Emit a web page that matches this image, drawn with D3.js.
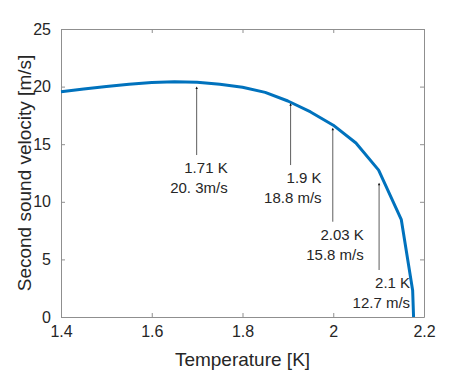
<!DOCTYPE html>
<html lang="en">

<head>
  <meta charset="UTF-8">
  <title>Second sound velocity</title>
  <script src="https://d3js.org/d3.v7.min.js"></script>
  <style>
    body { margin: 0; background: #fff; }
    text { font-family: "Liberation Sans", Arial, Helvetica, sans-serif; }
  </style>
</head>

<body>
  <div class="canvas"></div>
  <script>
    // data
    const temperature = [1.40, 1.45, 1.50, 1.55, 1.60, 1.65, 1.70, 1.75, 1.80, 1.85,
      1.90, 1.95, 2.00, 2.05, 2.10, 2.15, 2.175, 2.177];
    const velocity = [19.56, 19.8, 20.0, 20.2, 20.35, 20.42, 20.38, 20.2, 19.95, 19.5,
      18.75, 17.8, 16.65, 15.1, 12.75, 8.45, 2.3, 0];

    const xTicks = [1.4, 1.6, 1.8, 2.0, 2.2];
    const yTicks = [0, 5, 10, 15, 20, 25];

    // annotation: arrow head (T, v), text tail (v), two text lines
    const noteHeadT = [1.699, 1.906, 1.999, 2.101];
    const noteHeadV = [20.0, 18.55, 16.43, 11.66];
    const noteTailV = [14.06, 13.19, 8.27, 4.08];
    const noteLine1 = ['1.71 K', '1.9 K', '2.03 K', '2.1 K'];
    const noteLine2 = ['20. 3m/s', '18.8 m/s', '15.8 m/s', '12.7 m/s'];

    const width = 469;
    const height = 372;
    let [mt, mb, mr, ml] = [29, 55, 45, 61];

    const graphWidth = width - mr - ml;
    const graphHeight = height - mt - mb;

    const svg = d3.select('.canvas')
      .append('svg')
      .attr('width', width)
      .attr('height', height)

    const graph = svg.append('g')
      .attr('transform', `translate(${ml}, ${mt})`)

    const x = d3.scaleLinear()
      .domain([1.4, 2.2])
      .range([0, graphWidth])

    const y = d3.scaleLinear()
      .domain([0, 25])
      .range([graphHeight, 0])

    const axisColor = '#8f8f8f';
    const textColor = '#262626';

    // axes with inner ticks, box on
    const styleAxis = g => {
      g.select('.domain').attr('stroke', axisColor);
      g.selectAll('.tick line').attr('stroke', axisColor);
      g.selectAll('.tick text')
        .attr('fill', textColor)
        .attr('font-size', 16);
    };

    graph.append('g')
      .attr('transform', `translate(0, ${graphHeight})`)
      .call(d3.axisBottom(x).tickValues(xTicks).tickFormat(d3.format('~g'))
        .tickSizeInner(-4).tickSizeOuter(0).tickPadding(9))
      .call(styleAxis)

    graph.append('g')
      .call(d3.axisTop(x).tickValues(xTicks).tickFormat('')
        .tickSizeInner(-4).tickSizeOuter(0))
      .call(styleAxis)

    graph.append('g')
      .call(d3.axisLeft(y).tickValues(yTicks)
        .tickSizeInner(-4).tickSizeOuter(0).tickPadding(10))
      .call(styleAxis)

    graph.append('g')
      .attr('transform', `translate(${graphWidth}, 0)`)
      .call(d3.axisRight(y).tickValues(yTicks).tickFormat('')
        .tickSizeInner(-4).tickSizeOuter(0))
      .call(styleAxis)

    // curve
    const points = temperature.map((t, i) => [t, velocity[i]]);
    const line = d3.line()
      .x(d => x(d[0]))
      .y(d => y(d[1]))

    graph.append('path')
      .datum(points)
      .attr('d', line)
      .attr('fill', 'none')
      .attr('stroke', '#0072BD')
      .attr('stroke-width', 3)
      .attr('stroke-linejoin', 'round')

    // annotations
    noteHeadT.forEach((t, i) => {
      const hx = x(t);
      const hy = y(noteHeadV[i]);
      const ty = y(noteTailV[i]);
      graph.append('line')
        .attr('x1', hx).attr('x2', hx)
        .attr('y1', hy + 1).attr('y2', ty)
        .attr('stroke', '#333')
        .attr('stroke-width', 0.8)
      graph.append('path')
        .attr('d', `M${hx},${hy} L${hx - 1.2},${hy + 2.5} L${hx + 1.2},${hy + 2.5} Z`)
        .attr('fill', '#111')
      const txt = graph.append('text')
        .attr('text-anchor', 'end')
        .attr('font-size', 15)
        .attr('fill', textColor)
      txt.append('tspan')
        .attr('x', hx + 31).attr('y', ty + 18)
        .text(noteLine1[i])
      txt.append('tspan')
        .attr('x', hx + 31).attr('y', ty + 38)
        .text(noteLine2[i])
    });

    // axis labels
    svg.append('text')
      .attr('x', ml + graphWidth / 2)
      .attr('y', 366)
      .attr('text-anchor', 'middle')
      .attr('font-size', 19)
      .attr('fill', textColor)
      .text('Temperature [K]')

    svg.append('text')
      .attr('transform', `translate(31, ${mt + graphHeight / 2}) rotate(-90)`)
      .attr('text-anchor', 'middle')
      .attr('font-size', 19)
      .attr('fill', textColor)
      .text('Second sound velocity [m/s]')
  </script>

</body>

</html>
